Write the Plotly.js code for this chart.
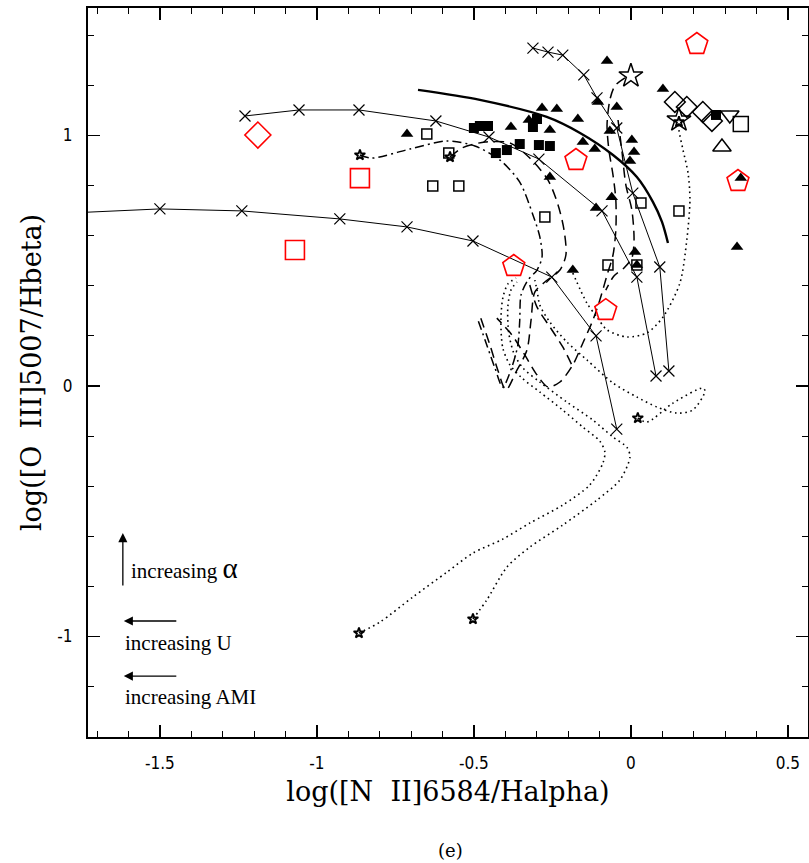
<!DOCTYPE html>
<html><head><meta charset="utf-8">
<script src="https://cdn.plot.ly/plotly-3.0.1.min.js"></script>
<style>html,body{margin:0;padding:0;background:#fff}#chart{width:809px;height:863px}</style>
</head><body><div id="chart"></div>
<script>
// ---- model sequences (solid, x markers) ----
const seqLowX = [-1.80,-1.500,-1.239,-0.927,-0.713,-0.503,-0.252,-0.111,-0.045];
const seqLowY = [0.690,0.707,0.699,0.667,0.635,0.579,0.435,0.200,-0.172];
const seqMidX = [-1.229,-1.057,-0.866,-0.621,-0.452,-0.293,-0.092,0.019,0.080];
const seqMidY = [1.078,1.102,1.102,1.058,0.994,0.906,0.699,0.435,0.040];
const seqTopX = [-0.312,-0.264,-0.217,-0.150,-0.108,-0.045,0.006,0.092,0.121];
const seqTopY = [1.349,1.333,1.321,1.242,1.150,1.030,0.770,0.475,0.060];
// ---- thick solid curve ----
const thickX = [-0.678,-0.481,-0.268,-0.162,-0.057,0.019,0.070,0.099,0.118];
const thickY = [1.182,1.142,1.074,1.010,0.922,0.834,0.735,0.655,0.571];
// ---- dash-dot track ----
const trkAX = [-0.863,-0.825,-0.704,-0.586,-0.497,-0.417,-0.354,-0.312,-0.290,-0.283,-0.299,-0.328,-0.350,-0.354,-0.360,-0.379,-0.408,-0.433,-0.459,-0.487];
const trkAY = [0.922,0.910,0.946,0.978,0.958,0.902,0.814,0.683,0.595,0.515,0.463,0.423,0.363,0.263,0.164,0.076,-0.004,0.072,0.164,0.263];
// ---- dashed tracks ----
const trkBX = [-0.576,-0.538,-0.465,-0.385,-0.322,-0.264,-0.232,-0.213,-0.207,-0.226,-0.274,-0.306,-0.318,-0.331,-0.366,-0.398,-0.424,-0.449,-0.478];
const trkBY = [0.914,0.950,0.974,0.970,0.910,0.822,0.723,0.623,0.523,0.463,0.415,0.375,0.263,0.144,0.056,-0.016,0.064,0.164,0.271];
const trkCX = [-0.019,-0.051,-0.067,-0.076,-0.070,-0.057,-0.048,-0.048,-0.057,-0.076,-0.099,-0.121,-0.153,-0.185,-0.226,-0.264,-0.299,-0.338,-0.379,-0.427];
const trkCY = [1.230,1.198,1.142,1.042,0.942,0.842,0.743,0.623,0.523,0.443,0.343,0.263,0.172,0.084,0.016,-0.004,0.044,0.124,0.204,0.271];
const trkDX = [-0.041,-0.029,-0.016,0.003,0.010,0.003,-0.022,-0.054,-0.080];
const trkDY = [1.062,0.942,0.802,0.703,0.583,0.511,0.471,0.439,0.383];
const trkEX = [-0.322,-0.299,-0.258,-0.217,-0.185];
const trkEY = [0.403,0.315,0.236,0.156,0.076];
// ---- dotted tracks ----
const dot1X = [-0.866,-0.799,-0.694,-0.586,-0.503,-0.408,-0.322,-0.217,-0.131,-0.089,-0.083,-0.099,-0.153,-0.217,-0.290,-0.347,-0.385,-0.408,-0.414,-0.408,-0.392,-0.366];
const dot1Y = [-0.986,-0.942,-0.842,-0.743,-0.667,-0.611,-0.547,-0.475,-0.395,-0.307,-0.263,-0.220,-0.164,-0.096,-0.024,0.032,0.084,0.152,0.255,0.351,0.407,0.431];
const dot2X = [-0.503,-0.459,-0.395,-0.322,-0.217,-0.108,-0.035,-0.003,-0.013,-0.057,-0.121,-0.204,-0.290,-0.344,-0.373,-0.389,-0.392,-0.382,-0.363];
const dot2Y = [-0.930,-0.854,-0.723,-0.643,-0.555,-0.455,-0.375,-0.283,-0.244,-0.204,-0.136,-0.064,0.016,0.072,0.132,0.212,0.315,0.383,0.415];
const dot3X = [0.022,0.051,0.134,0.229,0.236,0.197,0.146,0.083,0.019,-0.057,-0.140,-0.204,-0.258,-0.290,-0.299,-0.306];
const dot3Y = [-0.128,-0.144,-0.068,-0.008,-0.020,-0.096,-0.108,-0.084,-0.044,0.012,0.104,0.176,0.255,0.323,0.383,0.423];
const dot4X = [-0.185,-0.140,-0.108,-0.076,-0.013,0.051,0.102,0.156,0.178,0.188,0.182,0.166,0.153,0.153];
const dot4Y = [0.451,0.331,0.275,0.224,0.196,0.212,0.275,0.411,0.583,0.743,0.850,0.942,1.022,1.054];
// ---- track end points (small stars) ----
const endX = [-0.863,-0.576,-0.866,-0.503,0.022,0.153];
const endY = [0.922,0.914,-0.986,-0.930,-0.128,1.054];
// ---- observed objects ----
const triX = [-0.713,-0.283,-0.236,-0.382,-0.325,-0.258,-0.169,-0.153,-0.115,-0.076,0.102,-0.105,-0.045,-0.067,0.003,0.010,-0.003,-0.258,-0.061,-0.111,0.350,0.338,0.013,0.019,-0.185];
const triY = [1.006,1.110,1.106,1.034,1.062,1.022,1.066,0.974,0.946,1.297,1.186,1.134,1.114,1.018,0.982,0.934,0.898,0.834,0.754,0.711,0.830,0.555,0.535,0.483,0.463];
const sqFX = [-0.500,-0.481,-0.455,-0.430,-0.395,-0.354,-0.293,-0.258,-0.312,-0.299,0.271];
const sqFY = [1.030,1.038,1.038,0.930,0.942,0.966,0.962,0.958,1.034,1.066,1.082];
const sqOX = [-0.650,-0.580,-0.631,-0.548,-0.274,0.032,0.153,-0.073,0.019];
const sqOY = [1.006,0.930,0.798,0.798,0.675,0.731,0.699,0.483,0.483];
const diaX = [0.140,0.178,0.229,0.258];
const diaY = [1.134,1.114,1.094,1.058];
const tdnX = [0.315], tdnY = [1.082];
const tupX = [0.290], tupY = [0.954];
const bigSqX = [0.350], bigSqY = [1.046];
const starX = [0.000,0.153], starY = [1.238,1.062];
// ---- red comparison objects ----
const redDiaX = [-1.188], redDiaY = [1.002];
const redSqX = [-0.863,-1.070], redSqY = [0.830,0.543];
const redPentX = [0.210,-0.175,0.341,-0.373,-0.080];
const redPentY = [1.365,0.902,0.818,0.479,0.303];
// ---- axis ticks ----
const xTickVals = [-1.5,-1,-0.5,0,0.5], xTickText = ['-1.5','-1','-0.5','0','0.5'];
const yTickVals = [-1,0,1], yTickText = ['-1','0','1'];

const K = '#000';
function ln(x,y,dash,w,shape){return {x:x,y:y,mode:'lines',line:{color:K,width:w,dash:dash,shape:shape||'spline',smoothing:0.8},hoverinfo:'skip'};}
function seq(x,y){return {x:x,y:y,mode:'lines+markers',line:{color:K,width:1},marker:{symbol:'x-thin-open',size:11,color:K,line:{width:1.2,color:K}}};}
function mk(x,y,sym,size,col,lw){return {x:x,y:y,mode:'markers',marker:{symbol:sym,size:size,color:col,line:{color:col,width:lw}}};}

const dotDash = '1.6px,3.6px';
const traces = [
  ln(dot1X,dot1Y,dotDash,1.6),
  ln(dot2X,dot2Y,dotDash,1.6),
  ln(dot3X,dot3Y,dotDash,1.6),
  ln(dot4X,dot4Y,dotDash,1.6),
  ln(trkAX,trkAY,'9px,4px,2px,4px',1.5),
  ln(trkBX,trkBY,'10px,6px',1.5),
  ln(trkCX,trkCY,'10px,6px',1.5),
  ln(trkDX,trkDY,'10px,6px',1.5),
  ln(trkEX,trkEY,'10px,6px',1.5),
  ln(thickX,thickY,'solid',2.4),
  seq(seqLowX,seqLowY),
  seq(seqMidX,seqMidY),
  seq(seqTopX,seqTopY),
  mk(endX,endY,'star-open',8,K,1.8),
  mk(triX,triY,'triangle-up',11,K,0),
  mk(sqFX,sqFY,'square',10,K,0),
  mk(sqOX,sqOY,'square-open',10,K,1.5),
  mk(diaX,diaY,'diamond-open',16,K,1.5),
  mk(tdnX,tdnY,'triangle-down-open',16,K,1.5),
  mk(tupX,tupY,'triangle-up-open',16,K,1.5),
  mk(bigSqX,bigSqY,'square-open',15,K,1.5),
  mk(starX,starY,'star-open',18,K,1.5),
  mk(redDiaX,redDiaY,'diamond-open',20,'#ff0000',1.6),
  mk(redSqX,redSqY,'square-open',19,'#ff0000',1.6),
  mk(redPentX,redPentY,'pentagon-open',23,'#ff0000',1.6)
];

const serif = 'Liberation Serif, Times New Roman, serif';
const tickFont = {family:'Liberation Sans Narrow, DejaVu Sans Condensed, Liberation Sans, Arial, sans-serif', size:17, color:K};
const titleFont = {family:'DejaVu Serif, serif', size:27, color:K};
const axisCommon = {showgrid:false, zeroline:false, showline:true, linecolor:K, linewidth:2, mirror:'allticks',
  ticks:'inside', ticklen:12, tickwidth:1.2, tickcolor:K, tickfont:tickFont, tickmode:'array', ticklabelstandoff:10};

const layout = {
  width:809, height:863, margin:{l:88,r:1,t:8,b:126},
  paper_bgcolor:'#fff', plot_bgcolor:'#fff', showlegend:false,
  xaxis: Object.assign({}, axisCommon, {range:[-1.729,0.564], tickvals:xTickVals, ticktext:xTickText,
    minor:{tickmode:'linear', tick0:0, dtick:0.1, ticks:'inside', ticklen:6, tickwidth:1, tickcolor:K},
    title:{text:'log([N&#160;&#160;II]6584/Halpha)', font:titleFont, standoff:10}}),
  yaxis: Object.assign({}, axisCommon, {range:[-1.401,1.509], tickvals:yTickVals, ticktext:yTickText,
    minor:{tickmode:'linear', tick0:0, dtick:0.2, ticks:'inside', ticklen:6, tickwidth:1, tickcolor:K},
    title:{text:'log([O&#160;&#160;III]5007/Hbeta)', font:titleFont, standoff:8}}),
  annotations:[
    {x:-1.618, y:-0.587, ax:0, ay:54, showarrow:true, arrowhead:2, arrowsize:1.4, arrowwidth:1.3, arrowcolor:K, text:''},
    {x:-1.615, y:-0.938, ax:54, ay:0, showarrow:true, arrowhead:2, arrowsize:1.4, arrowwidth:1.3, arrowcolor:K, text:''},
    {x:-1.615, y:-1.158, ax:54, ay:0, showarrow:true, arrowhead:2, arrowsize:1.4, arrowwidth:1.3, arrowcolor:K, text:''},
    {x:-1.598, y:-0.727, xanchor:'left', yanchor:'middle', showarrow:false, text:'increasing <span style="font-size:29px">α</span>', font:{family:serif, size:21, color:K}},
    {x:-1.617, y:-1.026, xanchor:'left', yanchor:'middle', showarrow:false, text:'increasing U', font:{family:serif, size:21, color:K}},
    {x:-1.617, y:-1.242, xanchor:'left', yanchor:'middle', showarrow:false, text:'increasing AMI', font:{family:serif, size:21, color:K}},
    {xref:'paper', yref:'paper', x:0.503, y:-0.156, xanchor:'center', yanchor:'middle', showarrow:false, text:'(e)', font:{family:'DejaVu Serif, serif', size:18, color:K}}
  ]
};
Plotly.newPlot('chart', traces, layout, {displayModeBar:false, staticPlot:true});
</script></body></html>
